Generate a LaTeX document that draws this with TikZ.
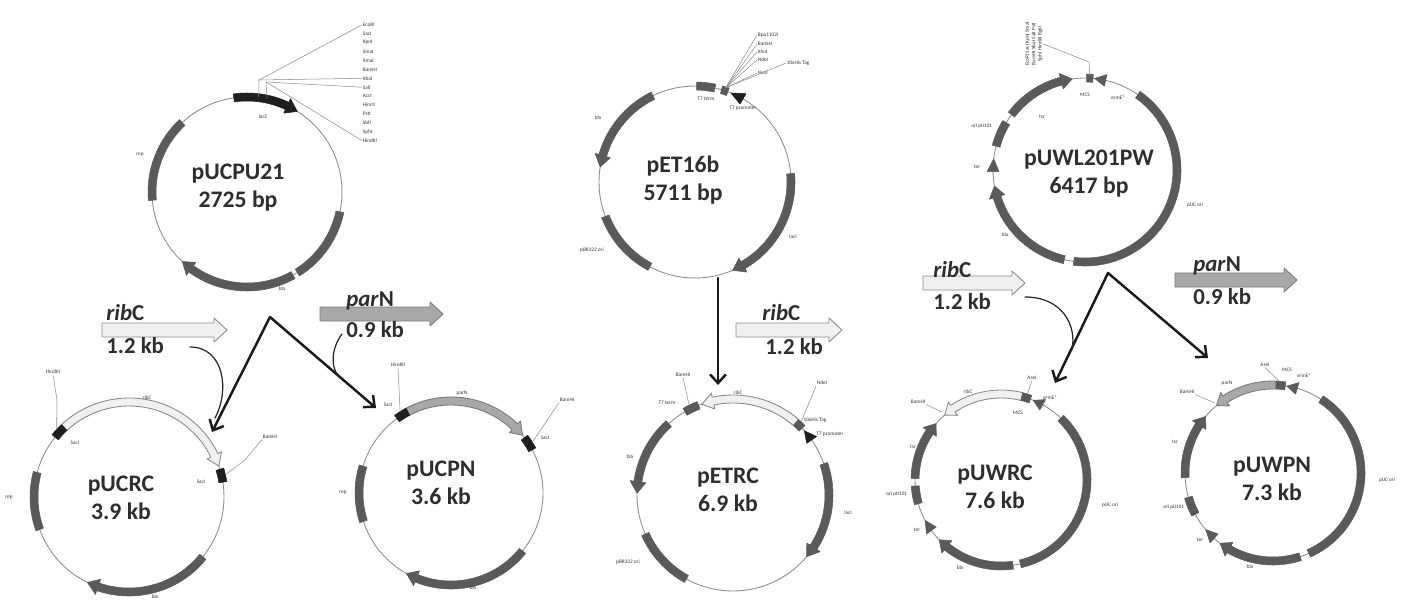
\documentclass[tikz,border=0pt]{standalone}
\usepackage{fontspec}
\setmainfont{Carlito}
\usetikzlibrary{arrows.meta}

\definecolor{featgray}{HTML}{5A5A5A}
\definecolor{bbgray}{HTML}{8E8E8E}
\definecolor{ribfill}{HTML}{F0F0F0}
\definecolor{ribline}{HTML}{8A8A8A}
\definecolor{parfill}{HTML}{A8A8A8}
\definecolor{parline}{HTML}{7A7A7A}
\definecolor{namegray}{HTML}{2E2E2E}

% band on a plasmid circle: centre, radius, start, end, style
\newcommand{\geneband}[5]{%
  \pgfmathsetmacro\radout{#2+4}%
  \pgfmathsetmacro\radin{#2-4}%
  \draw[#5, shift={(#1)}] (#3:\radout) arc[start angle=#3, end angle=#4, radius=\radout]
    -- (#4:\radin) arc[start angle=#4, end angle=#3, radius=\radin] -- cycle;}

% band with arrow head at the end angle
\newcommand{\genearc}[5]{%
  \pgfmathsetmacro\radout{#2+4}%
  \pgfmathsetmacro\radin{#2-4}%
  \pgfmathsetmacro\radhi{#2+8}%
  \pgfmathsetmacro\radlo{#2-8}%
  \pgfmathsetmacro\angbase{(#4)-7*sign((#4)-(#3))}%
  \draw[#5, shift={(#1)}] (#3:\radout) arc[start angle=#3, end angle=\angbase, radius=\radout]
    -- (\angbase:\radhi) -- (#4:#2) -- (\angbase:\radlo) -- (\angbase:\radin)
    arc[start angle=\angbase, end angle=#3, radius=\radin] -- cycle;}

% small promoter triangle
\newcommand{\promoter}[5]{%
  \pgfmathsetmacro\radhi{#2+6}%
  \pgfmathsetmacro\radlo{#2-6}%
  \pgfmathsetmacro\angtip{#3+#4}%
  \fill[#5, shift={(#1)}] (#3:\radhi) -- (#3:\radlo) -- (\angtip:#2) -- cycle;}

% straight insert arrow: left x, centre y, tip x, style
\newcommand{\insertbar}[4]{%
  \draw[#4] (#1,#2+7) -- (#3-13,#2+7) -- (#3-13,#2+12) -- (#3,#2)
    -- (#3-13,#2-12) -- (#3-13,#2-7) -- (#1,#2-7) -- cycle;}

\begin{document}
\begin{tikzpicture}[x=0.02cm, y=0.02cm, line cap=round, line join=round,
    backbone/.style={draw=bbgray, line width=0.5pt},
    darkfeat/.style={fill=featgray, draw=featgray, line width=0.3pt},
    blackfeat/.style={fill=black!88, draw=black!88, line width=0.3pt},
    ribfeat/.style={fill=ribfill, draw=ribline, line width=0.5pt},
    parfeat/.style={fill=parfill, draw=parline, line width=0.5pt},
    tinylab/.style={font=\fontsize{3}{3.6}\selectfont, text=black!80, inner sep=0.3pt},
    leader/.style={draw=black!45, line width=0.3pt},
    plasname/.style={font=\fontsize{13.5}{16}\selectfont\bfseries, text=namegray, align=center, inner sep=0pt},
    genelab/.style={font=\fontsize{13}{15}\selectfont\bfseries, text=namegray, inner sep=0pt},
    bigarrow/.style={line width=1.4pt, draw=black!90},
    thinarrow/.style={line width=0.7pt, draw=black!85}]
  \useasboundingbox (0,0) rectangle (1413,-602);

  % centres
  \coordinate (pucpu) at (247,-192);
  \coordinate (pet) at (695,-182);
  \coordinate (puwl) at (1085,-170);
  \coordinate (pucrc) at (129,-497);
  \coordinate (pucpn) at (451,-493);
  \coordinate (petrc) at (733,-495);
  \coordinate (puwrc) at (1001,-480);
  \coordinate (puwpn) at (1273,-473);

  % pUCPU21
  \draw[backbone] (pucpu) circle[radius=95];
  \genearc{pucpu}{95}{98}{58}{blackfeat}
  \geneband{pucpu}{95}{133}{185}{darkfeat}
  \geneband{pucpu}{95}{-12}{-58}{darkfeat}
  \genearc{pucpu}{95}{-61}{-133}{darkfeat}
  \node[plasname] (nmucpu) at (238,-188) {pUCPU21\\2725 bp};
  \node[tinylab] (lacz1) at (263,-117) {lacZ};
  \node[tinylab] (rep1) at (140,-155) {rep};
  \node[tinylab] (bla1) at (282,-289) {bla};
  \foreach \lab [count=\i] in {EcoRI,SacI,KpnI,SmaI,XmaI,BamHI,XbaI,SalI,AccI,HincII,PstI,SbfI,SphI,HindIII}
    \node[tinylab, anchor=west] (mcs\i) at (362,-16-8.9*\i) {\lab};
  \path (pucpu) ++(83:96) coordinate (lzfoot);
  \path (pucpu) ++(78:96) coordinate (lzfoot2);
  \coordinate (lzknee) at (259,-80);
  \coordinate (lzknee2) at (266,-82);
  \draw[leader] (lzfoot) -- (lzknee) -- (mcs1.west);
  \draw[leader] (lzknee) -- (mcs7.west);
  \draw[leader] (lzfoot2) -- (lzknee2) -- (mcs8.west);
  \draw[leader] (lzknee2) -- (mcs14.west);

  % pET16b
  \draw[backbone] (pet) circle[radius=96];
  \genearc{pet}{96}{116}{171}{darkfeat}
  \geneband{pet}{96}{201}{242}{darkfeat}
  \genearc{pet}{96}{5}{-67}{darkfeat}
  \geneband{pet}{96}{89}{78}{darkfeat}
  \geneband{pet}{96}{74}{70}{darkfeat}
  \promoter{pet}{96}{60}{8}{blackfeat}
  \node[plasname] (nmet) at (683,-180) {pET16b\\5711 bp};
  \node[tinylab] (bla2) at (598,-118) {bla};
  \node[tinylab] (ori2) at (592,-250) {pBR322 ori};
  \node[tinylab] (lac2) at (793,-237) {lacI};
  \node[tinylab] (t7t2) at (706,-99) {T7 term};
  \node[tinylab] (t7p2) at (743,-108) {T7 promoter};
  \node[tinylab, anchor=west] (etmcs1) at (757,-35) {Bpu1102I};
  \node[tinylab, anchor=west] (etmcs2) at (757,-44) {BamHI};
  \node[tinylab, anchor=west] (etmcs3) at (757,-52) {XhoI};
  \node[tinylab, anchor=west] (etmcs4) at (757,-60) {NdeI};
  \node[tinylab, anchor=west] (ethis) at (786,-63) {10xHis Tag};
  \node[tinylab, anchor=west] (etmcs5) at (757,-73) {NcoI};
  \path (pet) ++(72:99) coordinate (petfoot);
  \foreach \n in {etmcs1,etmcs2,etmcs3,etmcs4,ethis,etmcs5}
    \draw[leader] (petfoot) -- (\n.west);

  % pUWL201PW
  \draw[backbone] (puwl) circle[radius=92];
  \genearc{puwl}{92}{143}{98}{darkfeat}
  \geneband{puwl}{92}{149}{165}{darkfeat}
  \promoter{puwl}{92}{181}{-8}{darkfeat}
  \genearc{puwl}{92}{257}{190}{darkfeat}
  \geneband{puwl}{92}{55}{-97}{darkfeat}
  \geneband{puwl}{92}{89}{85}{darkfeat}
  \promoter{puwl}{92}{77}{7}{darkfeat}
  \node[plasname] (nmuwl) at (1089,-174) {pUWL201PW\\6417 bp};
  \node[tinylab] (tsr3) at (1042,-117) {tsr};
  \node[tinylab, anchor=east] (pij3) at (993,-126) {ori pIJ101};
  \node[tinylab] (ter3) at (977,-167) {ter};
  \node[tinylab] (bla3) at (1005,-235) {bla};
  \node[tinylab] (ori3) at (1195,-205) {pUC ori};
  \node[tinylab] (mcs3) at (1085,-95) {MCS};
  \node[tinylab] (erm3) at (1118,-98) {ermE*};
  \node[tinylab, rotate=90, align=center] (uwmcs) at (1034,-44) {EcoRI SacI KpnI SmaI\\BamHI XbaI SalI PstI\\SphI HindIII BglII};
  \path (puwl) ++(87:93) coordinate (uwfoot);
  \coordinate (uwknee) at (1089,-62);
  \draw[leader] (uwfoot) -- (uwknee) -- (uwmcs.south);

  % pUCRC
  \draw[backbone] (pucrc) circle[radius=95];
  \genearc{pucrc}{95}{133}{19}{ribfeat}
  \geneband{pucrc}{95}{141}{133}{blackfeat}
  \geneband{pucrc}{95}{17}{9}{blackfeat}
  \geneband{pucrc}{95}{165}{200}{darkfeat}
  \genearc{pucrc}{95}{-39}{-116}{darkfeat}
  \node[plasname] (nmucrc) at (121,-498) {pUCRC\\3.9 kb};
  \node[tinylab] (rib4) at (147,-398) {ribC};
  \node[tinylab] (hind4) at (53,-372) {HindIII};
  \node[tinylab] (sac4a) at (75,-443) {SacI};
  \node[tinylab] (bam4) at (270,-437) {BamHI};
  \node[tinylab] (sac4b) at (201,-482) {SacI};
  \node[tinylab] (rep4) at (9,-498) {rep};
  \node[tinylab] (bla4) at (155,-597) {bla};
  \path (pucrc) ++(137:99) coordinate (cut4a);
  \path (pucrc) ++(13:99) coordinate (cut4b);
  \coordinate (knee4a) at (57,-400);
  \coordinate (knee4b) at (245,-460);
  \draw[leader] (cut4a) -- (knee4a) -- (hind4.south);
  \draw[leader] (cut4b) -- (knee4b) -- (bam4.south west);

  % pUCPN
  \draw[backbone] (pucpn) circle[radius=92];
  \genearc{pucpn}{92}{118}{39}{parfeat}
  \geneband{pucpn}{92}{126}{118}{blackfeat}
  \geneband{pucpn}{92}{37}{28}{blackfeat}
  \geneband{pucpn}{92}{163}{198}{darkfeat}
  \genearc{pucpn}{92}{-39}{-119}{darkfeat}
  \node[plasname] (nmucpn) at (441,-483) {pUCPN\\3.6 kb};
  \node[tinylab] (par5) at (462,-393) {parN};
  \node[tinylab] (hind5) at (398,-365) {HindIII};
  \node[tinylab] (sac5a) at (388,-405) {SacI};
  \node[tinylab] (bam5) at (567,-400) {BamHI};
  \node[tinylab] (sac5b) at (545,-438) {SacI};
  \node[tinylab] (rep5) at (343,-493) {rep};
  \node[tinylab] (bla5) at (473,-588) {bla};
  \path (pucpn) ++(122:96) coordinate (cut5a);
  \path (pucpn) ++(32:96) coordinate (cut5b);
  \draw[leader] (cut5a) -- (hind5.south);
  \draw[leader] (cut5b) -- (bam5.south west);

  % pETRC
  \draw[backbone] (petrc) circle[radius=96];
  \genearc{petrc}{96}{49}{109}{ribfeat}
  \geneband{petrc}{96}{120}{111}{darkfeat}
  \geneband{petrc}{96}{49}{44}{darkfeat}
  \promoter{petrc}{96}{35}{7}{blackfeat}
  \genearc{petrc}{96}{132}{179}{darkfeat}
  \geneband{petrc}{96}{204}{241}{darkfeat}
  \genearc{petrc}{96}{19}{-40}{darkfeat}
  \node[plasname] (nmetrc) at (728,-490) {pETRC\\6.9 kb};
  \node[tinylab] (rib6) at (738,-393) {ribC};
  \node[tinylab] (bam6) at (683,-375) {BamHI};
  \node[tinylab] (t7t6) at (667,-403) {T7 term};
  \node[tinylab] (nde6) at (822,-383) {NdeI};
  \node[tinylab] (his6) at (815,-420) {10xHis Tag};
  \node[tinylab] (t7p6) at (830,-434) {T7 promoter};
  \node[tinylab] (bla6) at (630,-457) {bla};
  \node[tinylab] (ori6) at (628,-562) {pBR322 ori};
  \node[tinylab] (lac6) at (848,-513) {lacI};
  \path (petrc) ++(116:100) coordinate (cut6a);
  \path (petrc) ++(47:100) coordinate (cut6b);
  \draw[leader] (cut6a) -- (bam6.south);
  \draw[leader] (cut6b) -- (nde6.south west);

  % pUWRC
  \draw[backbone] (puwrc) circle[radius=86];
  \genearc{puwrc}{86}{76}{131}{ribfeat}
  \geneband{puwrc}{86}{76}{70}{darkfeat}
  \promoter{puwrc}{86}{61}{7}{darkfeat}
  \geneband{puwrc}{86}{46}{-77}{darkfeat}
  \genearc{puwrc}{86}{179}{139}{darkfeat}
  \geneband{puwrc}{86}{184}{196}{darkfeat}
  \promoter{puwrc}{86}{216}{-8}{darkfeat}
  \genearc{puwrc}{86}{278}{224}{darkfeat}
  \node[plasname] (nmuwrc) at (995,-487) {pUWRC\\7.6 kb};
  \node[tinylab] (rib7) at (968,-392) {ribC};
  \node[tinylab] (ase7) at (1032,-378) {AseI};
  \node[tinylab] (erm7) at (1050,-398) {ermE*};
  \node[tinylab] (mcs7) at (1018,-413) {MCS};
  \node[tinylab] (bam7) at (918,-402) {BamHI};
  \node[tinylab] (ori7) at (1110,-505) {pUC ori};
  \node[tinylab] (tsr7) at (913,-447) {tsr};
  \node[tinylab, anchor=east] (pij7) at (908,-494) {ori pIJ101};
  \node[tinylab] (ter7) at (917,-530) {ter};
  \node[tinylab] (bla7) at (960,-568) {bla};
  \path (puwrc) ++(73:90) coordinate (cut7a);
  \path (puwrc) ++(131:90) coordinate (cut7b);
  \draw[leader] (cut7a) -- (ase7.south);
  \draw[leader] (cut7b) -- (bam7.south east);

  % pUWPN
  \draw[backbone] (puwpn) circle[radius=88];
  \genearc{puwpn}{88}{88}{130}{parfeat}
  \geneband{puwpn}{88}{88}{82}{darkfeat}
  \promoter{puwpn}{88}{74}{7}{darkfeat}
  \geneband{puwpn}{88}{57}{-66}{darkfeat}
  \genearc{puwpn}{88}{183}{140}{darkfeat}
  \geneband{puwpn}{88}{196}{208}{darkfeat}
  \promoter{puwpn}{88}{228}{-8}{darkfeat}
  \genearc{puwpn}{88}{-72}{-127}{darkfeat}
  \node[plasname] (nmuwpn) at (1272,-479) {pUWPN\\7.3 kb};
  \node[tinylab] (par8) at (1227,-383) {parN};
  \node[tinylab] (ase8) at (1265,-365) {AseI};
  \node[tinylab] (mcs8) at (1287,-370) {MCS};
  \node[tinylab] (erm8) at (1304,-376) {ermE*};
  \node[tinylab] (bam8) at (1187,-392) {BamHI};
  \node[tinylab] (ori8) at (1387,-480) {pUC ori};
  \node[tinylab] (tsr8) at (1175,-442) {tsr};
  \node[tinylab, anchor=east] (pij8) at (1185,-507) {ori pIJ101};
  \node[tinylab] (ter8) at (1200,-540) {ter};
  \node[tinylab] (bla8) at (1250,-567) {bla};
  \path (puwpn) ++(86:92) coordinate (cut8a);
  \path (puwpn) ++(130:92) coordinate (cut8b);
  \draw[leader] (cut8a) -- (ase8.south);
  \draw[leader] (cut8b) -- (bam8.south east);

  % inserts
  \insertbar{102}{-330}{227}{ribfeat}
  \insertbar{320}{-314}{443}{parfeat}
  \insertbar{736}{-330}{842}{ribfeat}
  \insertbar{923}{-283}{1025}{ribfeat}
  \insertbar{1175}{-280}{1297}{parfeat}
  \node[genelab, anchor=west] (ribname1) at (106,-313) {\textit{rib}C};
  \node[genelab, anchor=west] (ribsize1) at (106,-346) {1.2 kb};
  \node[genelab, anchor=west] (parname1) at (346,-301) {\textit{par}N};
  \node[genelab, anchor=west] (parsize1) at (346,-330) {0.9 kb};
  \node[genelab, anchor=west] (ribname2) at (762,-313) {\textit{rib}C};
  \node[genelab, anchor=west] (ribsize2) at (765,-347) {1.2 kb};
  \node[genelab, anchor=west] (ribname3) at (933,-270) {\textit{rib}C};
  \node[genelab, anchor=west] (ribsize3) at (933,-302) {1.2 kb};
  \node[genelab, anchor=west] (parname3) at (1193,-266) {\textit{par}N};
  \node[genelab, anchor=west] (parsize3) at (1193,-297) {0.9 kb};

  % cloning arrows
  \coordinate (apex1) at (270,-317);
  \coordinate (tip1a) at (212,-432);
  \coordinate (tip1b) at (376,-408);
  \draw[bigarrow, {Straight Barb[length=5pt,width=9pt]}-{Straight Barb[length=5pt,width=9pt]}] (tip1a) -- (apex1) -- (tip1b);
  \coordinate (down1) at (718,-278);
  \coordinate (down2) at (718,-385);
  \draw[bigarrow, -{Straight Barb[length=5pt,width=9pt]}] (down1) -- (down2);
  \coordinate (apex3) at (1108,-273);
  \coordinate (tip3a) at (1055,-383);
  \coordinate (tip3b) at (1208,-358);
  \draw[bigarrow, {Straight Barb[length=5pt,width=9pt]}-{Straight Barb[length=5pt,width=9pt]}] (tip3a) -- (apex3) -- (tip3b);

  % insert paths
  \coordinate (from1) at (190,-347);
  \coordinate (join1) at (215,-418);
  \draw[thinarrow] (from1) .. controls (224,-347) and (230,-390) .. (join1);
  \coordinate (from2) at (342,-334);
  \coordinate (join2) at (343,-380);
  \draw[thinarrow] (from2) .. controls (330,-350) and (330,-372) .. (join2);
  \coordinate (from3) at (1025,-297);
  \coordinate (join3) at (1072,-350);
  \draw[thinarrow] (from3) .. controls (1062,-297) and (1077,-325) .. (join3);
\end{tikzpicture}
\end{document}
